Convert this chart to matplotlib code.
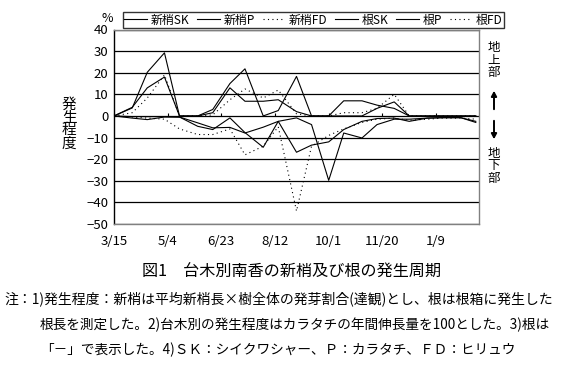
import matplotlib
matplotlib.use("Agg")
import matplotlib.pyplot as plt
from datetime import date

plt.rcParams['font.family'] = ['Noto Sans CJK JP', 'DejaVu Sans']
plt.rcParams['axes.unicode_minus'] = True

# ---- data ----
dates = ['3/15', '4/1', '4/15', '5/1', '5/15', '6/1', '6/15', '7/1', '7/15', '8/1',
         '8/15', '9/1', '9/15', '10/1', '10/15', '11/1', '11/15', '12/1', '12/15',
         '1/1', '1/15', '2/1', '2/15']
shoot_sk = [0, 3.7, 20.2, 29.2, 0, 0, 3, 15, 21.8, 0, 2.5, 18.3, 0, 0, 7, 7, 5, 3.5, 0, 0, 0, 0, 0]
shoot_p = [0, 4, 13, 18, 0, 0, 1.5, 13, 6.8, 6.8, 7.5, 2, 0, 0, 0, 0, 3.5, 6.5, 0, 0, 0, 0, 0]
shoot_fd = [0, 1.5, 8.3, 19, 0, 0, 0.5, 7.5, 12.5, 8.3, 12, 1, 0, 0, 1.5, 1.5, 3.5, 10, 0, 0, 0, 0, 0]
root_sk = [0, -1, -1.7, -0.5, -0.5, -3.2, -5.5, -5.3, -7.9, -5.2, -2.5, -0.9, -4, -29.8,
           -7.9, -10.2, -4, -1.5, -1.5, -1, -0.8, -0.8, -3]
root_p = [0, -0.3, -0.3, -0.3, -0.5, -4.8, -6.3, -0.9, -7.7, -14.5, -2.5, -16.8, -13.5, -12,
          -6.3, -2.5, -1.2, -1, -2.5, -1, -0.8, -0.8, -2.5]
root_fd = [0, -0.5, -1, -1.5, -6, -8.6, -8.6, -6, -18, -14, -5, -44, -14, -9,
           -6, -3, -1.5, -1, -2, -1.5, -1, -1, -1.5]
tick_labels = ['3/15', '5/4', '6/23', '8/12', '10/1', '11/20', '1/9']
yticks = [40, 30, 20, 10, 0, -10, -20, -30, -40, -50]

series = [('新梢SK', shoot_sk, '-'), ('新梢P', shoot_p, '-'), ('新梢FD', shoot_fd, (0, (1, 3))),
          ('根SK', root_sk, '-'), ('根P', root_p, '-'), ('根FD', root_fd, (0, (1, 3)))]


def to_day(s):
    m, d = map(int, s.split('/'))
    y = 2000 if m >= 3 else 2001
    return (date(y, m, d) - date(2000, 3, 15)).days


x = [to_day(s) for s in dates]
tick_x = [to_day(s) for s in tick_labels]

W, H = 566, 369
fig = plt.figure(figsize=(W / 100, H / 100), dpi=100)
ax = fig.add_axes([114 / W, 1 - 224 / H, (479 - 114) / W, (224 - 29.5) / H])

for name, vals, ls in series:
    ax.plot(x, vals, color='black', lw=0.8, linestyle=ls, label=name)

ax.set_xlim(0, 340)
ax.set_ylim(-50, 40)
ax.set_yticks(yticks)
ax.yaxis.grid(True, color='black', lw=0.9)
ax.set_axisbelow(True)
ax.tick_params(axis='y', length=0, pad=4, labelsize=9.5)
ax.set_xticks(tick_x)
ax.set_xticklabels(tick_labels)
ax.tick_params(axis='x', length=0, pad=8, labelsize=9.5)
for sp in ['top', 'right', 'bottom']:
    ax.spines[sp].set_color('#808080')
ax.spines['left'].set_color('black')
for sp in ax.spines.values():
    sp.set_linewidth(1.0)

# small tick marks sitting on the zero line, pointing up
sec = ax.secondary_xaxis(50 / 90)
sec.set_alignment('bottom')
sec.set_xticks(tick_x)
sec.set_xticklabels([])
sec.tick_params(direction='in', length=2.5, width=0.8, labelbottom=False, labeltop=False)
for sp in sec.spines.values():
    sp.set_visible(False)

leg = fig.legend(loc='center', bbox_to_anchor=(313.5 / W, 1 - 20 / H), ncol=6,
                 fontsize=8.6, frameon=True, fancybox=False, edgecolor='black',
                 handlelength=1.9, handletextpad=0.3, columnspacing=0.65,
                 borderpad=0.15, borderaxespad=0)
leg.get_frame().set_linewidth(1.0)

fig.text(107 / W, 1 - 18 / H, '%', ha='center', va='center', fontsize=9)
fig.text(69 / W, 1 - 124 / H, '発\n生\n程\n度', ha='center', va='center',
         fontsize=10.5, linespacing=0.9)
fig.text(494 / W, 1 - 60 / H, '地\n上\n部', ha='center', va='center',
         fontsize=9, linespacing=0.95)
fig.text(494 / W, 1 - 166 / H, '地\n下\n部', ha='center', va='center',
         fontsize=9, linespacing=0.95)
fig.add_artist(matplotlib.patches.FancyArrowPatch(
    (494 / W, 1 - 112 / H), (494 / W, 1 - 88 / H), transform=fig.transFigure,
    arrowstyle='-|>,head_length=3,head_width=1.6', color='black', lw=1.4))
fig.add_artist(matplotlib.patches.FancyArrowPatch(
    (494 / W, 1 - 118 / H), (494 / W, 1 - 142 / H), transform=fig.transFigure,
    arrowstyle='-|>,head_length=3,head_width=1.6', color='black', lw=1.4))

renderer = fig.canvas.get_renderer()


def fitted_text(x0, x1, y, s, fs):
    t = fig.text(x0 / W, 1 - y / H, s, ha='left', va='center', fontsize=fs)
    w = t.get_window_extent(renderer).width
    t.set_fontsize(fs * (x1 - x0) / w)
    return t


fitted_text(142, 440, 272, '図1　台木別南香の新梢及び根の発生周期', 11)
fitted_text(4, 551, 299, '注：1)発生程度：新梢は平均新梢長×樹全体の発芽割合(達観)とし、根は根箱に発生した', 10)
t2 = fitted_text(40, 551, 325, '根長を測定した。2)台木別の発生程度はカラタチの年間伸長量を100とした。3)根は', 10)
fig.text(40 / W, 1 - 350 / H, '「－」で表示した。4)ＳＫ：シイクワシャー、Ｐ：カラタチ、ＦＤ：ヒリュウ',
         ha='left', va='center', fontsize=t2.get_fontsize())

fig.savefig('out.png', dpi=100)
